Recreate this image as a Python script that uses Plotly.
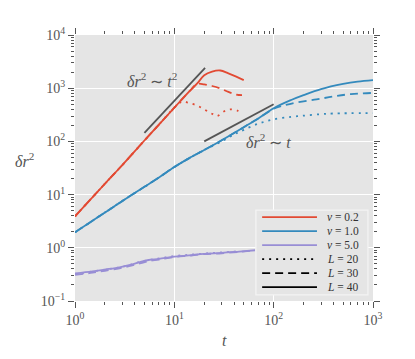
import plotly.graph_objects as go

# v = 0.2 (red)
t_red_40 = [1, 2, 3, 5, 7, 10, 14, 17, 20, 24, 29, 35, 42, 50]
r_red_40 = [3.9, 16, 36, 104, 207, 430, 850, 1230, 1750, 2050, 2150, 1900, 1650, 1420]
t_red_30 = [1, 2, 3, 5, 7, 10, 14, 17, 20, 24, 29, 35, 42, 48]
r_red_30 = [3.9, 16, 36, 104, 207, 430, 850, 1200, 1180, 1100, 990, 850, 760, 740]
t_red_20 = [1, 2, 3, 5, 7, 10, 12, 14, 17, 20, 24, 27, 31, 36, 43, 48]
r_red_20 = [3.9, 16, 36, 104, 207, 430, 560, 530, 470, 400, 330, 300, 360, 400, 380, 350]

# v = 1.0 (blue)
t_blue_40 = [1, 2, 3, 5, 7, 10, 14, 20, 30, 50, 70, 100, 150, 200, 300, 500, 700, 1000]
r_blue_40 = [1.95, 4.6, 7.6, 14, 21, 33, 48, 69, 105, 185, 270, 420, 600, 740, 960, 1200, 1330, 1420]
t_blue_30 = [1, 2, 3, 5, 7, 10, 14, 20, 30, 50, 70, 100, 125, 170, 270, 400, 600, 1000]
r_blue_30 = [1.95, 4.6, 7.6, 14, 21, 33, 48, 69, 105, 185, 270, 410, 470, 540, 615, 700, 775, 815]
t_blue_20 = [1, 2, 3, 5, 7, 10, 14, 20, 30, 40, 50, 70, 100, 150, 200, 300, 400, 1000]
r_blue_20 = [1.95, 4.6, 7.6, 14, 21, 33, 48, 69, 100, 135, 165, 215, 260, 290, 305, 325, 335, 340]

# v = 5.0 (purple)
t_pur_40 = [1, 1.5, 2, 2.8, 3.5, 4.5, 5.5, 7, 10, 14, 20, 30, 45, 65]
r_pur_40 = [0.33, 0.36, 0.39, 0.43, 0.47, 0.54, 0.59, 0.62, 0.68, 0.72, 0.77, 0.80, 0.85, 0.90]
t_pur_30 = [1, 1.5, 2, 2.8, 3.5, 4.5, 5.5, 7, 10, 14, 20, 30, 45, 60]
r_pur_30 = [0.31, 0.34, 0.37, 0.41, 0.45, 0.51, 0.56, 0.60, 0.67, 0.71, 0.76, 0.79, 0.84, 0.88]
t_pur_20 = [1, 2, 3, 5, 7, 10, 14, 20, 30, 45]
r_pur_20 = [0.32, 0.39, 0.44, 0.57, 0.63, 0.70, 0.74, 0.78, 0.82, 0.86]

# guide lines
t_guide2 = [5, 20.4]
r_guide2 = [145, 2400]
t_guide1 = [20, 100]
r_guide1 = [100, 500]

x_ticks = [1, 10, 100, 1000]
x_labels = ["10<sup>0</sup>", "10<sup>1</sup>", "10<sup>2</sup>", "10<sup>3</sup>"]
y_ticks = [0.1, 1, 10, 100, 1000, 10000]
y_labels = ["10<sup>\u22121</sup>", "10<sup>0</sup>", "10<sup>1</sup>",
            "10<sup>2</sup>", "10<sup>3</sup>", "10<sup>4</sup>"]
legend_labels = ["<i>v</i> = 0.2", "<i>v</i> = 1.0", "<i>v</i> = 5.0",
                 "<i>L</i> = 20", "<i>L</i> = 30", "<i>L</i> = 40"]

RED = "#E24A33"
BLUE = "#348ABD"
PURPLE = "#988ED5"
GRAY = "#555555"
FONT = "Liberation Serif"
LW = 1.8
DASH = "8px,5px"
DOT = "2px,5px"

fig = go.Figure()

series = [
    (t_red_20, r_red_20, RED, DOT), (t_red_30, r_red_30, RED, DASH), (t_red_40, r_red_40, RED, "solid"),
    (t_blue_20, r_blue_20, BLUE, DOT), (t_blue_30, r_blue_30, BLUE, DASH), (t_blue_40, r_blue_40, BLUE, "solid"),
    (t_pur_20, r_pur_20, PURPLE, DOT), (t_pur_30, r_pur_30, PURPLE, DASH), (t_pur_40, r_pur_40, PURPLE, "solid"),
]
for t, r, c, d in series:
    fig.add_trace(go.Scatter(x=t, y=r, mode="lines", line=dict(color=c, width=LW, dash=d, shape="spline"),
                             showlegend=False, hoverinfo="skip"))

for t, r in [(t_guide2, r_guide2), (t_guide1, r_guide1)]:
    fig.add_trace(go.Scatter(x=t, y=r, mode="lines", line=dict(color=GRAY, width=LW),
                             showlegend=False, hoverinfo="skip"))

minor_x = [m * 10 ** e for e in range(0, 3) for m in range(2, 10)]
minor_y = [m * 10 ** e for e in range(-1, 4) for m in range(2, 10)]

axis_common = dict(
    type="log", showline=False, zeroline=False, automargin=False,
    showgrid=True, gridcolor="white", gridwidth=1,
    ticks="outside", ticklen=6, tickcolor=GRAY, tickwidth=1, mirror="ticks",
    tickmode="array", tickfont=dict(family=FONT, size=14, color=GRAY),
)

fig.update_xaxes(range=[0, 3], tickvals=x_ticks, ticktext=x_labels,
                 minor=dict(tickvals=minor_x, ticks="outside", ticklen=3, tickcolor=GRAY, showgrid=False),
                 **axis_common)
fig.update_yaxes(range=[-1, 4], tickvals=y_ticks, ticktext=y_labels,
                 minor=dict(tickvals=minor_y, ticks="outside", ticklen=3, tickcolor=GRAY, showgrid=False),
                 **axis_common)

ann = dict(xref="paper", yref="paper", showarrow=False, xanchor="center", yanchor="middle")
fig.add_annotation(text="<i>\u03b4r</i><sup>2</sup> \u223c <i>t</i><sup>2</sup>", x=0.258, y=0.83,
                   font=dict(family=FONT, size=16, color=GRAY), **ann)
fig.add_annotation(text="<i>\u03b4r</i><sup>2</sup> \u223c <i>t</i>", x=0.65, y=0.602,
                   font=dict(family=FONT, size=16, color=GRAY), **ann)
fig.add_annotation(text="<i>\u03b4r</i><sup>2</sup>", x=-0.171, y=0.53,
                   font=dict(family=FONT, size=16, color=GRAY), **ann)
fig.add_annotation(text="<i>t</i>", x=0.503, y=-0.15,
                   font=dict(family=FONT, size=16, color=GRAY), **ann)

# legend box drawn in the lower-right corner (matplotlib-style proxy keys)
fig.add_shape(type="rect", xref="paper", yref="paper", x0=0.607, x1=0.983, y0=0.023, y1=0.342,
              fillcolor="#E5E5E5", line=dict(color="#F4F4F4", width=1.2), layer="above")
key_styles = [(RED, "solid"), (BLUE, "solid"), (PURPLE, "solid"),
              ("black", DOT), ("black", DASH), ("black", "solid")]
row_h = 14 / 266
for i, (label, (c, d)) in enumerate(zip(legend_labels, key_styles)):
    yy = 0.315 - i * row_h
    fig.add_shape(type="line", xref="paper", yref="paper", x0=0.628, x1=0.812, y0=yy, y1=yy,
                  line=dict(color=c, width=LW, dash=d), layer="above")
    fig.add_annotation(text=label, x=0.84, y=yy, xref="paper", yref="paper", showarrow=False,
                       xanchor="left", yanchor="middle",
                       font=dict(family=FONT, size=11.5, color="#333333"))

# page body adds an 8px offset, so the figure is drawn 8px smaller on top/left
fig.update_layout(
    width=407, height=351,
    margin=dict(l=67, r=42, t=27, b=58),
    paper_bgcolor="white", plot_bgcolor="#E5E5E5",
    showlegend=False,
)

fig.write_html("out.html")
